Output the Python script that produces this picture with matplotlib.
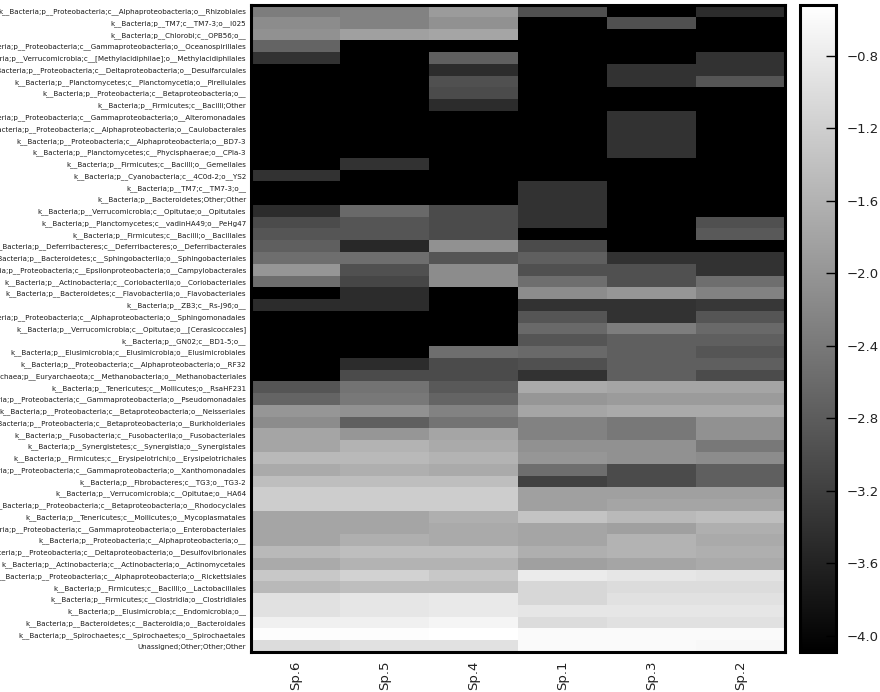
import numpy as np
import matplotlib
matplotlib.use("Agg")
import matplotlib.pyplot as plt

taxa = [
    "k__Bacteria;p__Proteobacteria;c__Alphaproteobacteria;o__Rhizobiales",
    "k__Bacteria;p__TM7;c__TM7-3;o__I025",
    "k__Bacteria;p__Chlorobi;c__OPB56;o__",
    "k__Bacteria;p__Proteobacteria;c__Gammaproteobacteria;o__Oceanospirillales",
    "k__Bacteria;p__Verrucomicrobia;c__[Methylacidiphilae];o__Methylacidiphilales",
    "k__Bacteria;p__Proteobacteria;c__Deltaproteobacteria;o__Desulfarculales",
    "k__Bacteria;p__Planctomycetes;c__Planctomycetia;o__Pirellulales",
    "k__Bacteria;p__Proteobacteria;c__Betaproteobacteria;o__",
    "k__Bacteria;p__Firmicutes;c__Bacilli;Other",
    "k__Bacteria;p__Proteobacteria;c__Gammaproteobacteria;o__Alteromonadales",
    "k__Bacteria;p__Proteobacteria;c__Alphaproteobacteria;o__Caulobacterales",
    "k__Bacteria;p__Proteobacteria;c__Alphaproteobacteria;o__BD7-3",
    "k__Bacteria;p__Planctomycetes;c__Phycisphaerae;o__CPla-3",
    "k__Bacteria;p__Firmicutes;c__Bacilli;o__Gemellales",
    "k__Bacteria;p__Cyanobacteria;c__4C0d-2;o__YS2",
    "k__Bacteria;p__TM7;c__TM7-3;o__",
    "k__Bacteria;p__Bacteroidetes;Other;Other",
    "k__Bacteria;p__Verrucomicrobia;c__Opitutae;o__Opitutales",
    "k__Bacteria;p__Planctomycetes;c__vadinHA49;o__PeHg47",
    "k__Bacteria;p__Firmicutes;c__Bacilli;o__Bacillales",
    "k__Bacteria;p__Deferribacteres;c__Deferribacteres;o__Deferribacterales",
    "k__Bacteria;p__Bacteroidetes;c__Sphingobacteriia;o__Sphingobacteriales",
    "k__Bacteria;p__Proteobacteria;c__Epsilonproteobacteria;o__Campylobacterales",
    "k__Bacteria;p__Actinobacteria;c__Coriobacteriia;o__Coriobacteriales",
    "k__Bacteria;p__Bacteroidetes;c__Flavobacteriia;o__Flavobacteriales",
    "k__Bacteria;p__ZB3;c__Rs-J96;o__",
    "k__Bacteria;p__Proteobacteria;c__Alphaproteobacteria;o__Sphingomonadales",
    "k__Bacteria;p__Verrucomicrobia;c__Opitutae;o__[Cerasicoccales]",
    "k__Bacteria;p__GN02;c__BD1-5;o__",
    "k__Bacteria;p__Elusimicrobia;c__Elusimicrobia;o__Elusimicrobiales",
    "k__Bacteria;p__Proteobacteria;c__Alphaproteobacteria;o__RF32",
    "k__Archaea;p__Euryarchaeota;c__Methanobacteria;o__Methanobacteriales",
    "k__Bacteria;p__Tenericutes;c__Mollicutes;o__RsaHF231",
    "k__Bacteria;p__Proteobacteria;c__Gammaproteobacteria;o__Pseudomonadales",
    "k__Bacteria;p__Proteobacteria;c__Betaproteobacteria;o__Neisseriales",
    "k__Bacteria;p__Proteobacteria;c__Betaproteobacteria;o__Burkholderiales",
    "k__Bacteria;p__Fusobacteria;c__Fusobacteriia;o__Fusobacteriales",
    "k__Bacteria;p__Synergistetes;c__Synergistia;o__Synergistales",
    "k__Bacteria;p__Firmicutes;c__Erysipelotrichi;o__Erysipelotrichales",
    "k__Bacteria;p__Proteobacteria;c__Gammaproteobacteria;o__Xanthomonadales",
    "k__Bacteria;p__Fibrobacteres;c__TG3;o__TG3-2",
    "k__Bacteria;p__Verrucomicrobia;c__Opitutae;o__HA64",
    "k__Bacteria;p__Proteobacteria;c__Betaproteobacteria;o__Rhodocyclales",
    "k__Bacteria;p__Tenericutes;c__Mollicutes;o__Mycoplasmatales",
    "k__Bacteria;p__Proteobacteria;c__Gammaproteobacteria;o__Enterobacteriales",
    "k__Bacteria;p__Proteobacteria;c__Alphaproteobacteria;o__",
    "k__Bacteria;p__Proteobacteria;c__Deltaproteobacteria;o__Desulfovibrionales",
    "k__Bacteria;p__Actinobacteria;c__Actinobacteria;o__Actinomycetales",
    "k__Bacteria;p__Proteobacteria;c__Alphaproteobacteria;o__Rickettsiales",
    "k__Bacteria;p__Firmicutes;c__Bacilli;o__Lactobacillales",
    "k__Bacteria;p__Firmicutes;c__Clostridia;o__Clostridiales",
    "k__Bacteria;p__Elusimicrobia;c__Endomicrobia;o__",
    "k__Bacteria;p__Bacteroidetes;c__Bacteroidia;o__Bacteroidales",
    "k__Bacteria;p__Spirochaetes;c__Spirochaetes;o__Spirochaetales",
    "Unassigned;Other;Other;Other",
]

samples = ["Sp.6", "Sp.5", "Sp.4", "Sp.1", "Sp.3", "Sp.2"]

sp6 = [-2.34, -2.13, -2.06, -2.69, -3.39, -4.09, -4.09, -4.09, -4.09, -4.09,
       -4.09, -4.09, -4.09, -4.09, -3.39, -4.09, -4.09, -3.46, -3.04, -2.90,
       -2.76, -2.55, -1.99, -2.55, -4.09, -3.46, -4.09, -4.09, -4.09, -4.09,
       -4.09, -4.09, -2.90, -2.69, -1.99, -2.13, -1.78, -1.78, -1.50, -1.71,
       -1.43, -1.22, -1.22, -1.78, -1.78, -1.78, -1.50, -1.71, -1.29, -1.50,
       -0.94, -0.94, -0.73, -0.56, -1.01]
sp5 = [-2.27, -2.27, -1.85, -4.09, -4.09, -4.09, -4.09, -4.09, -4.09, -4.09,
       -4.09, -4.09, -4.09, -3.39, -4.09, -4.09, -4.09, -2.62, -2.90, -2.90,
       -3.53, -2.55, -2.97, -3.11, -3.46, -3.46, -4.09, -4.09, -4.09, -4.09,
       -3.46, -3.04, -2.48, -2.41, -2.06, -2.76, -1.99, -1.57, -1.50, -1.64,
       -1.43, -1.22, -1.22, -1.78, -1.78, -1.64, -1.43, -1.57, -1.15, -1.43,
       -0.87, -0.87, -0.73, -0.56, -0.94]
sp4 = [-1.92, -2.06, -1.78, -4.09, -2.76, -3.46, -2.97, -3.04, -3.46, -4.09,
       -4.09, -4.09, -4.09, -4.09, -4.09, -4.09, -4.09, -3.04, -3.04, -3.04,
       -2.06, -2.90, -2.13, -2.13, -4.09, -4.09, -4.09, -4.09, -4.09, -2.55,
       -3.04, -3.04, -2.83, -2.69, -2.27, -2.48, -1.78, -1.71, -1.57, -1.71,
       -1.43, -1.22, -1.22, -1.64, -1.71, -1.71, -1.43, -1.57, -1.29, -1.43,
       -0.84, -0.84, -0.66, -0.52, -0.94]
sp1 = [-2.97, -4.09, -4.09, -4.09, -4.09, -4.09, -4.09, -4.09, -4.09, -4.09,
       -4.09, -4.09, -4.09, -4.09, -4.09, -3.39, -3.39, -3.39, -3.39, -4.09,
       -3.04, -2.76, -2.97, -2.55, -2.13, -3.39, -2.90, -2.62, -2.90, -2.62,
       -2.97, -3.39, -1.71, -1.99, -1.78, -2.27, -2.27, -2.06, -1.99, -2.55,
       -3.18, -1.85, -1.85, -1.36, -1.78, -1.78, -1.64, -1.85, -0.80, -1.08,
       -1.08, -0.87, -1.01, -0.59, -0.59]
sp3 = [-4.09, -2.97, -4.09, -4.09, -4.09, -3.39, -3.39, -4.09, -4.09, -3.39,
       -3.39, -3.39, -3.39, -4.09, -4.09, -4.09, -4.09, -4.09, -4.09, -4.09,
       -4.09, -3.39, -2.97, -2.97, -1.99, -3.39, -3.39, -2.34, -2.76, -2.76,
       -2.76, -2.76, -1.78, -1.92, -1.71, -2.41, -2.41, -2.06, -2.06, -3.04,
       -3.04, -1.85, -1.78, -1.50, -1.85, -1.57, -1.57, -1.78, -0.87, -1.01,
       -0.94, -0.87, -0.94, -0.59, -0.59]
sp2 = [-3.46, -4.09, -4.09, -4.09, -3.39, -3.39, -2.90, -4.09, -4.09, -4.09,
       -4.09, -4.09, -4.09, -4.09, -4.09, -4.09, -4.09, -4.09, -2.97, -2.83,
       -4.09, -3.39, -3.39, -2.55, -2.27, -3.32, -2.90, -2.62, -2.76, -2.90,
       -2.76, -3.04, -1.78, -1.92, -1.71, -2.06, -2.06, -2.41, -2.13, -2.76,
       -2.76, -1.85, -1.78, -1.43, -1.64, -1.71, -1.64, -1.71, -0.90, -1.01,
       -0.94, -0.87, -0.94, -0.59, -0.62]

cbar_ticks = [-0.8, -1.2, -1.6, -2.0, -2.4, -2.8, -3.2, -3.6, -4.0]

data = np.column_stack([sp6, sp5, sp4, sp1, sp3, sp2])

fig = plt.figure(figsize=(8.8, 6.92), dpi=100)
ax = fig.add_axes([251 / 880, 1 - 652 / 692, 534 / 880, 647 / 692])
im = ax.imshow(data, cmap="gray", aspect="auto", interpolation="nearest")

ax.set_yticks(np.arange(len(taxa)))
ax.set_yticklabels(taxa, fontsize=5.1, color="#1a1a1a")
ax.set_xticks(np.arange(len(samples)))
ax.set_xticklabels(samples, rotation=90, fontsize=9.5, color="#222222")
ax.tick_params(axis="y", length=0, pad=3.5)
ax.tick_params(axis="x", length=0, pad=6)
for s in ax.spines.values():
    s.set_linewidth(2.2)

cax = fig.add_axes([800 / 880, 1 - 652 / 692, 36 / 880, 647 / 692])
cb = fig.colorbar(im, cax=cax, ticks=cbar_ticks)
cb.outline.set_linewidth(2.2)
cax.tick_params(direction="in", length=7, width=1, labelsize=9.5,
                labelcolor="#222222", pad=8)
cb.ax.set_yticklabels(["\u2212%.1f" % abs(t) for t in cbar_ticks])

fig.savefig("out.png", dpi=100)
